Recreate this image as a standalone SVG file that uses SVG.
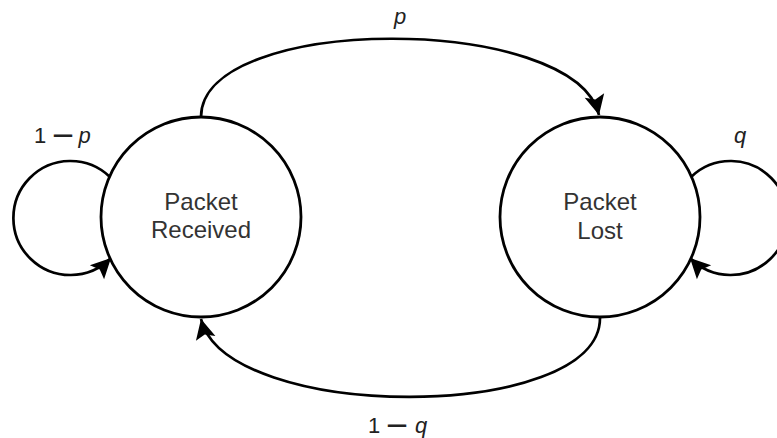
<svg xmlns="http://www.w3.org/2000/svg" width="777" height="438" viewBox="0 0 777 438">
  <style>
    .state { fill: #ffffff; stroke: #000000; stroke-width: 2.8; }
    .name { font-family: "Liberation Sans", Arial, sans-serif; font-size: 24px; fill: #333333; text-anchor: middle; }
    .edge { fill: none; stroke: #000000; stroke-width: 2.7; marker-end: url(#head); }
    .lbl { font-family: "Liberation Sans", Arial, sans-serif; font-size: 22px; fill: #222222; text-anchor: middle; }
    .var { font-style: italic; }
    .op { stroke: #222222; stroke-width: 1.1; }
  </style>
  <defs>
    <marker id="head" markerUnits="userSpaceOnUse" markerWidth="24" markerHeight="24" refX="20" refY="10" orient="auto" overflow="visible">
      <path d="M20,10 L0,0 L4,10 L0,20 Z" fill="#000000"/>
    </marker>
  </defs>

  <!-- transitions -->
  <g id="connectors">
    <!-- Received -> Lost : p -->
    <path class="edge" d="M201,117 C201,13 575,13 599,115"/>
    <!-- Lost -> Received : 1 - q -->
    <path class="edge" d="M600,318 C600,423 226,423 201,319"/>
    <!-- Received self loop : 1 - p -->
    <path class="edge" d="M110,177 A57,57 0 1 0 111,258"/>
    <!-- Lost self loop : q -->
    <path class="edge" d="M691,177 A57,57 0 1 1 690,258"/>
  </g>

  <g id="labels">
    <text class="lbl" y="24"><tspan class="var" x="400">p</tspan></text>
    <text class="lbl" y="143"><tspan class="var" x="740">q</tspan></text>
    <text class="lbl" y="143"><tspan x="40">1</tspan><tspan class="op" x="53" text-anchor="start" textLength="20" lengthAdjust="spacingAndGlyphs">−</tspan><tspan class="var" x="84.5">p</tspan></text>
    <text class="lbl" y="433"><tspan x="374">1</tspan><tspan class="op" x="387" text-anchor="start" textLength="20" lengthAdjust="spacingAndGlyphs">−</tspan><tspan class="var" x="421">q</tspan></text>
  </g>

  <g id="received">
    <circle class="state" cx="201" cy="217" r="100"/>
    <text class="name" x="201" y="210">Packet</text>
    <text class="name" x="201" y="238">Received</text>
  </g>

  <g id="lost">
    <circle class="state" cx="600" cy="217" r="100"/>
    <text class="name" x="600" y="210">Packet</text>
    <text class="name" x="600" y="239">Lost</text>
  </g>
</svg>
